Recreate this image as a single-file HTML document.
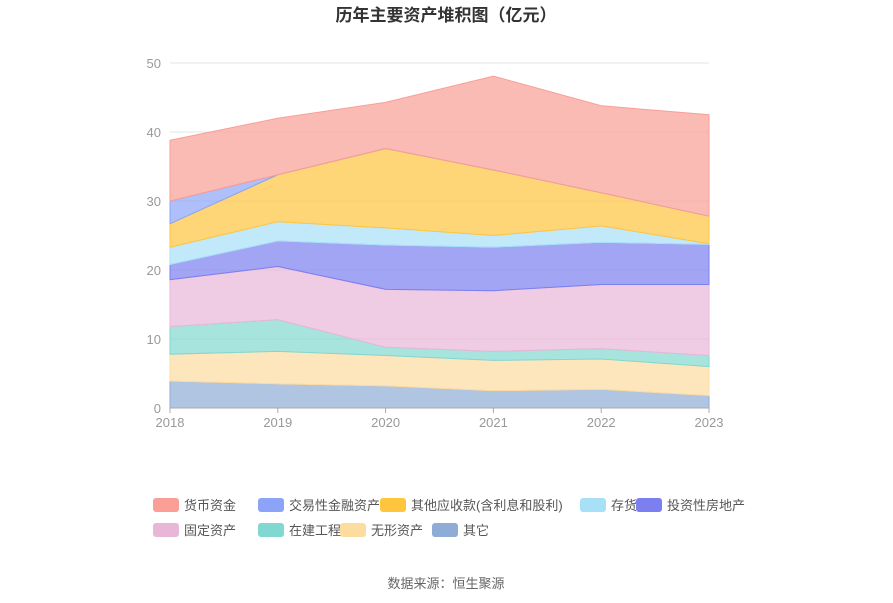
<!DOCTYPE html>
<html><head><meta charset="utf-8"><style>
body{margin:0;background:#fff;font-family:"Liberation Sans","Noto Sans CJK SC",sans-serif;}
#wrap{position:relative;width:893px;height:603px;overflow:hidden;}
</style></head><body>
<div id="wrap">
<svg id="chart" width="893" height="603">
<text x="446" y="21" text-anchor="middle" font-size="17" font-weight="bold" fill="#333">历年主要资产堆积图（亿元）</text>
<g id="grid"></g><g id="areas"></g><g id="axes"></g><g id="legend"></g>
<text x="446" y="588" text-anchor="middle" font-size="13" fill="#666">数据来源：恒生聚源</text>
</svg></div>
<script>
const years=["2018","2019","2020","2021","2022","2023"];
const seriesNames=["其它","无形资产","在建工程","固定资产","投资性房地产","存货","其他应收款(含利息和股利)","交易性金融资产","货币资金"];
const other=[3.9,3.5,3.2,2.5,2.7,1.8];
const intangible=[3.9,4.7,4.4,4.4,4.4,4.2];
const construction=[4.0,4.6,1.2,1.3,1.5,1.6];
const fixedAssets=[6.8,7.7,8.4,8.8,9.3,10.3];
const investProperty=[2.2,3.7,6.4,6.3,6.1,5.8];
const inventory=[2.5,2.8,2.5,1.7,2.4,0.1];
const otherRecv=[3.4,6.8,11.5,9.5,4.8,4.0];
const tradingFin=[3.3,0.0,0.0,0.0,0.0,0.0];
const cash=[8.8,8.2,6.7,13.6,12.6,14.7];
const yTicks=[0,10,20,30,40,50];
const colors=["#8eacd6","#fddca0","#81d8d0","#e8b7d8","#7b7ff0","#a8e0f8","#ffc53d","#8ba4f7","#fa9e96"];
const legendColors=["#fa9e96","#8ba4f7","#ffc53d","#a8e0f8","#7b7ff0","#e8b7d8","#81d8d0","#fddca0","#8eacd6"];
const legendNames=["货币资金","交易性金融资产","其他应收款(含利息和股利)","存货","投资性房地产","固定资产","在建工程","无形资产","其它"];
const data=[other,intangible,construction,fixedAssets,investProperty,inventory,otherRecv,tradingFin,cash];
const NS="http://www.w3.org/2000/svg";
const x0=170,x1=709,yb=408,yt=63,ymax=50;
const X=i=>x0+(x1-x0)*i/(years.length-1);
const Y=v=>yb-(yb-yt)*v/ymax;
function mk(t,a,p){const e=document.createElementNS(NS,t);for(const k in a)e.setAttribute(k,a[k]);p.appendChild(e);return e;}
const grid=document.getElementById('grid'),axes=document.getElementById('axes'),areas=document.getElementById('areas'),legend=document.getElementById('legend');
yTicks.forEach(t=>{
 const l=mk('line',{x1:x0,x2:x1,y1:Y(t),y2:Y(t),stroke:'#e6e6e6'},grid);
 
 
 const tx=mk('text',{x:161,y:Y(t)+5,'text-anchor':'end','font-size':13,fill:'#999'},axes);tx.textContent=t;
 
 
});
years.forEach((y,i)=>{
 const tx=mk('text',{x:X(i),y:yb+19,'text-anchor':'middle','font-size':13,fill:'#999'},axes);tx.textContent=y;
 
 
 const tk=mk('line',{x1:X(i),x2:X(i),y1:yb,y2:yb+5,stroke:'#aaa'},axes);
 
 
});
const ax=mk('line',{x1:x0,x2:x1,y1:yb,y2:yb,stroke:'#aaa'},axes);


let base=years.map(()=>0);
data.forEach((s,k)=>{
 const top=base.map((b,i)=>b+s[i]);
 let d='M'+top.map((v,i)=>X(i)+','+Y(v)).join('L');
 for(let i=years.length-1;i>=0;i--)d+='L'+X(i)+','+Y(base[i]);
 const p=mk('path',{d:d+'Z',fill:colors[k],'fill-opacity':0.7,stroke:colors[k],'stroke-width':1},areas);
 
 
 base=top;
});
const pos=[[153,505],[258,505],[380,505],[580,505],[636,505],[153,530],[258,530],[340,530],[432,530]];
legendNames.forEach((n,i)=>{
 const g=mk('g',{},legend);
 
 
 mk('rect',{x:pos[i][0],y:pos[i][1]-7,width:26,height:14,rx:3,fill:legendColors[i]},g);
 const t=mk('text',{x:pos[i][0]+31,y:pos[i][1]+5,'font-size':13,fill:'#555'},g);t.textContent=n;
});
</script></body></html>
